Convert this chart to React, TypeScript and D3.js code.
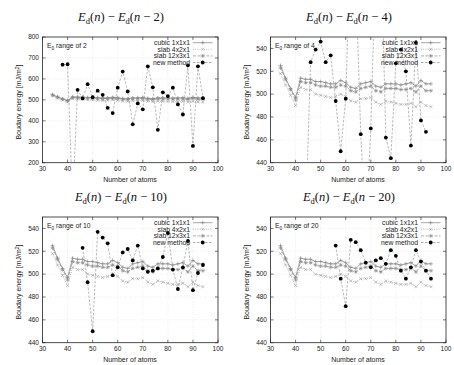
import React, { useEffect, useRef } from 'react';
import * as d3 from 'd3';

const atoms = [34, 36, 38, 40, 42, 44, 46, 48, 50, 52, 54, 56, 58, 60, 62, 64, 66, 68, 70, 72, 74, 76, 78, 80, 82, 84, 86, 88, 90, 92, 94];
const cubic = [525, 514, 505, 497, 514, 513, 513, 511, 511, 510, 509, 509, 512, 510, 506, 505, 509, 510, 511, 507, 506, 509, 509, 509, 508, 509, 510, 507, 512, 509, 509];
const slab4x2x1 = [518, 508, 499, 490, 506, 504, 504, 500, 499, 498, 497, 498, 500, 498, 494, 493, 496, 496, 497, 493, 491, 494, 493, 492, 491, 491, 492, 489, 493, 490, 489];
const slab12x3x1 = [523, 513, 504, 495, 511, 510, 510, 508, 507, 507, 506, 506, 508, 507, 503, 502, 505, 506, 507, 503, 502, 505, 505, 505, 504, 504, 505, 502, 507, 503, 503];
const newMethod2 = [null, null, 668, 670, 10, 548, 507, 575, 513, 544, 524, 462, 437, 558, 635, 540, 383, 483, 455, 660, 560, 357, 536, 518, 558, 478, 430, 665, 280, 660, 508];
const newMethod4 = [null, null, null, null, null, 390, 528, 539, 546, 528, 534, 494, 450, 496, 640, 600, 465, 380, 470, 620, 640, 462, 444, 527, 539, 520, 455, 545, 477, 467, null];
const newMethod10 = [null, null, null, null, null, null, 523, 493, 450, 537, 532, 527, 499, 506, 519, 522, 512, 525, 505, 502, 503, 505, 515, 536, 504, 487, 506, 529, 486, 501, 508];
const newMethod20 = [null, null, null, null, null, null, null, null, null, null, null, 525, 496, 472, 530, 528, 521, 510, 506, 512, 514, 509, 521, 516, 503, 496, 506, 521, 511, 503, 496];

const ranges = [2, 4, 10, 20];
const xTicks = [30, 40, 50, 60, 70, 80, 90, 100];
const yTicksWide = [200, 300, 400, 500, 600, 700, 800];
const yTicksNarrow = [440, 460, 480, 500, 520, 540];
const seriesNames = ['cubic 1x1x1', 'slab 4x2x1', 'slab 12x3x1', 'new method'];

const plusPath = 'M-2,0H2M0,-2V2';
const crossPath = 'M-1.5,-1.5L1.5,1.5M-1.5,1.5L1.5,-1.5';
const starPath = plusPath + crossPath;

const App = () => {
  const svgRef = useRef<SVGSVGElement>(null);

  useEffect(() => {
    const svg = d3.select(svgRef.current);
    svg.selectAll('*').remove();

    const left = 42.5, right = 218, top = 37, bottom = 162.7;
    const offsets = [[0, 0], [228, 0], [0, 180], [228, 180]];
    const newMethods = [newMethod2, newMethod4, newMethod10, newMethod20];
    const font = 'Liberation Sans, Arial, sans-serif';

    ranges.forEach((r, i) => {
      const g = svg.append('g').attr('transform', `translate(${offsets[i][0]},${offsets[i][1]})`);
      const wide = i === 0;
      const x = d3.scaleLinear().domain([30, 100]).range([left, right]);
      const y = d3.scaleLinear().domain(wide ? [200, 800] : [440, 550]).range([bottom, top]);
      const yTicks = wide ? yTicksWide : yTicksNarrow;

      const clipId = `clip${i}`;
      g.append('clipPath').attr('id', clipId)
        .append('rect').attr('x', left).attr('y', top).attr('width', right - left).attr('height', bottom - top);

      // grid
      g.append('g').selectAll('line').data(xTicks.slice(1, -1)).enter().append('line')
        .attr('x1', d => x(d)).attr('x2', d => x(d)).attr('y1', top).attr('y2', bottom)
        .attr('stroke', '#ddd').attr('stroke-width', 0.5).attr('stroke-dasharray', '1,1.5');
      g.append('g').selectAll('line').data(yTicks.filter(d => d > y.domain()[0] && d < y.domain()[1])).enter().append('line')
        .attr('x1', left).attr('x2', right).attr('y1', d => y(d)).attr('y2', d => y(d))
        .attr('stroke', '#ddd').attr('stroke-width', 0.5).attr('stroke-dasharray', '1,1.5');

      // frame + inward ticks
      g.append('rect').attr('x', left).attr('y', top).attr('width', right - left).attr('height', bottom - top)
        .attr('fill', 'none').attr('stroke', '#222').attr('stroke-width', 0.8);
      const tk = g.append('g').attr('stroke', '#222').attr('stroke-width', 0.6);
      xTicks.forEach(t => {
        tk.append('line').attr('x1', x(t)).attr('x2', x(t)).attr('y1', bottom).attr('y2', bottom - 3);
        tk.append('line').attr('x1', x(t)).attr('x2', x(t)).attr('y1', top).attr('y2', top + 3);
      });
      yTicks.forEach(t => {
        tk.append('line').attr('x1', left).attr('x2', left + 3).attr('y1', y(t)).attr('y2', y(t));
        tk.append('line').attr('x1', right).attr('x2', right - 3).attr('y1', y(t)).attr('y2', y(t));
      });

      // tick labels
      g.append('g').selectAll('text').data(xTicks).enter().append('text')
        .attr('x', d => x(d)).attr('y', bottom + 8).attr('text-anchor', 'middle')
        .attr('font-family', font).attr('font-size', 6.5).attr('fill', '#222').text(d => d);
      g.append('g').selectAll('text').data(yTicks).enter().append('text')
        .attr('x', left - 3.5).attr('y', d => y(d) + 2.3).attr('text-anchor', 'end')
        .attr('font-family', font).attr('font-size', 6.5).attr('fill', '#222').text(d => d);

      // axis titles
      g.append('text').attr('x', 130).attr('y', 181.5).attr('text-anchor', 'middle')
        .attr('font-family', font).attr('font-size', 7).attr('fill', '#222').text('Number of atoms');
      const yl = g.append('text').attr('transform', `translate(21,102) rotate(-90)`).attr('text-anchor', 'middle')
        .attr('font-family', font).attr('font-size', 7).attr('fill', '#222');
      yl.append('tspan').text('Boudary energy [mJ/m');
      yl.append('tspan').attr('dy', -2.5).attr('font-size', 5).text('2');
      yl.append('tspan').attr('dy', 2.5).text(']');

      // title
      const tt = g.append('text').attr('x', 121).attr('y', 21).attr('text-anchor', 'middle')
        .attr('font-family', 'Liberation Serif, Times New Roman, serif').attr('font-size', 12.5).attr('fill', '#111');
      const eSub = () => {
        tt.append('tspan').attr('font-style', 'italic').text('E');
        tt.append('tspan').attr('font-size', 8.5).attr('dy', 2.5).text('d');
        tt.append('tspan').attr('dy', -2.5).text('(');
        tt.append('tspan').attr('font-style', 'italic').text('n');
      };
      eSub();
      tt.append('tspan').text(') \u2212 ');
      eSub();
      tt.append('tspan').text(` \u2212 ${r})`);

      // range note
      const rn = g.append('text').attr('x', 47).attr('y', 47.5)
        .attr('font-family', font).attr('font-size', 6.8).attr('fill', '#222');
      rn.append('tspan').text('E');
      rn.append('tspan').attr('dy', 2).attr('font-size', 4.8).text('0');
      rn.append('tspan').attr('dy', -2).text(` range of ${r}`);

      // series
      type Pt = { a: number; v: number | null };
      const line = d3.line<Pt>().defined(d => d.v != null).x(d => x(d.a)).y(d => y(d.v as number));
      const plot = g.append('g').attr('clip-path', `url(#${clipId})`);
      const styles = [
        { data: cubic, stroke: '#808080', dash: null, mark: plusPath },
        { data: slab4x2x1, stroke: '#a0a0a0', dash: '1,1.2', mark: crossPath },
        { data: slab12x3x1, stroke: '#8a8a8a', dash: '3,1.5', mark: starPath },
      ];
      styles.forEach(s => {
        const pts: Pt[] = atoms.map((a, k) => ({ a, v: s.data[k] }));
        plot.append('path').attr('d', line(pts)).attr('fill', 'none').attr('stroke', s.stroke)
          .attr('stroke-width', 0.7).attr('stroke-dasharray', s.dash);
        plot.append('g').selectAll('path').data(pts).enter().append('path')
          .attr('transform', d => `translate(${x(d.a)},${y(d.v as number)})`)
          .attr('d', s.mark).attr('stroke', s.stroke).attr('stroke-width', 0.6).attr('fill', 'none');
      });
      const nmPts: Pt[] = atoms.map((a, k) => ({ a, v: newMethods[i][k] }));
      plot.append('path').attr('d', line(nmPts)).attr('fill', 'none').attr('stroke', '#8c8c8c')
        .attr('stroke-width', 0.6).attr('stroke-dasharray', '2.5,1.5');
      plot.append('g').selectAll('circle').data(nmPts.filter(d => d.v != null)).enter().append('circle')
        .attr('cx', d => x(d.a)).attr('cy', d => y(d.v as number)).attr('r', 1.9).attr('fill', '#000');

      // legend
      const lg = g.append('g');
      const legendStyles = [...styles.map(s => ({ stroke: s.stroke, dash: s.dash, mark: s.mark })), { stroke: '#8c8c8c', dash: '2.5,1.5', mark: '' }];
      seriesNames.forEach((name, k) => {
        const cy = 42.7 + k * 6.6;
        lg.append('text').attr('x', 190).attr('y', cy + 2.3).attr('text-anchor', 'end')
          .attr('font-family', font).attr('font-size', 6.8).attr('fill', '#222').text(name);
        lg.append('line').attr('x1', 193).attr('x2', 212.5).attr('y1', cy).attr('y2', cy)
          .attr('stroke', legendStyles[k].stroke).attr('stroke-width', 0.7).attr('stroke-dasharray', legendStyles[k].dash);
        if (k < 3) {
          lg.append('path').attr('transform', `translate(202.7,${cy})`).attr('d', legendStyles[k].mark)
            .attr('stroke', legendStyles[k].stroke).attr('stroke-width', 0.6).attr('fill', 'none');
        } else {
          lg.append('circle').attr('cx', 202.7).attr('cy', cy).attr('r', 1.9).attr('fill', '#000');
        }
      });
    });
  }, []);

  return (
    <svg ref={svgRef} width={454} height={365} style={{ position: 'absolute', left: 0, top: 0, background: '#fff' }}></svg>
  );
};

export default App;
